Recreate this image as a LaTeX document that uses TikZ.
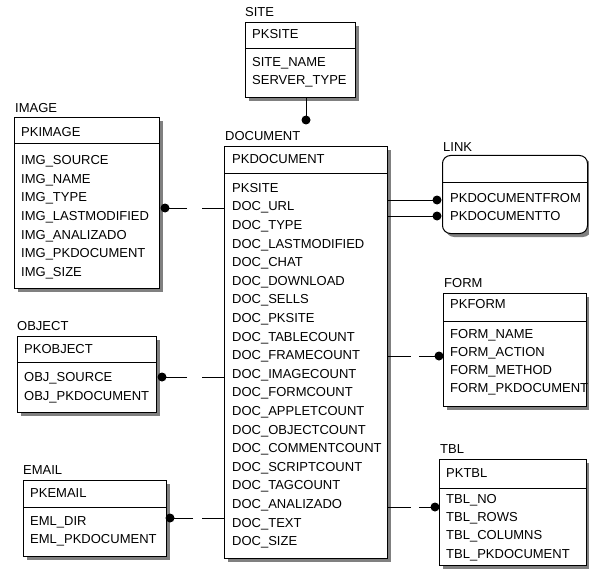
\documentclass[tikz,border=0pt]{standalone}
\usepackage{fontspec}
\setmainfont{Liberation Sans}
\newcommand\entity[7]{%
  \fill[shade,#7] ({#2+4},{#3+4}) rectangle ({#4+4},{#6+4});
  \node[ebox,#7,minimum width={#4-#2},minimum height={#6-#3}] (#1) at (#2,#3) {};
  \draw[hdr] (#2,#5) -- (#4,#5);
}
\begin{document}
\begin{tikzpicture}[x=1pt,y=-1pt,
  every node/.style={inner sep=0pt,anchor=west,text height=9.3pt,text depth=0pt,
    font=\fontsize{13}{13}\selectfont},
  ebox/.style={draw=black,fill=white,line width=1pt,anchor=north west},
  shade/.style={fill=black!50},
  hdr/.style={line width=1pt},
  rel/.style={line width=1pt},
  dotfill/.style={fill=black}]
\useasboundingbox (0,0) rectangle (589,575);
% entity boxes
\entity{site}{245}{22}{355}{49}{97}{}
\entity{image}{14}{117}{159}{144}{288}{}
\entity{doc}{224}{146}{387}{173}{558}{}
\entity{link}{442}{155}{587}{182}{233}{rounded corners=8pt}
\entity{form}{443}{293}{586}{321}{406}{}
\entity{object}{17}{336}{156}{362}{412}{}
\entity{email}{23}{480}{166}{507}{556}{}
\entity{tbl}{439}{459}{586}{488}{565}{}
% titles
\node (site-title) at (245,12) {SITE};
\node (image-title) at (15,108) {IMAGE};
\node (doc-title) at (225,136) {DOCUMENT};
\node (link-title) at (443,147) {LINK};
\node (form-title) at (444,283) {FORM};
\node (object-title) at (17,326) {OBJECT};
\node (email-title) at (23,470) {EMAIL};
\node (tbl-title) at (440,449) {TBL};
% primary keys
\node (site-pk) at (252,34) {PKSITE};
\node (image-pk) at (21,132) {PKIMAGE};
\node (doc-pk) at (232,159) {PKDOCUMENT};
\node (form-pk) at (450,304) {PKFORM};
\node (object-pk) at (24,349) {PKOBJECT};
\node (email-pk) at (30,493) {PKEMAIL};
\node (tbl-pk) at (446,473) {PKTBL};
% attributes
\foreach \t [count=\i] in {SITE\_NAME,SERVER\_TYPE}
  \node (site-\i) at (252,{62+18*(\i-1)}) {\t};
\foreach \t [count=\i] in {IMG\_SOURCE,IMG\_NAME,IMG\_TYPE,IMG\_LASTMODIFIED,IMG\_ANALIZADO,IMG\_PKDOCUMENT,IMG\_SIZE}
  \node (image-\i) at (21,{160+18.6*(\i-1)}) {\t};
\foreach \t [count=\i] in {PKSITE,DOC\_URL,DOC\_TYPE,DOC\_LASTMODIFIED,DOC\_CHAT,DOC\_DOWNLOAD,DOC\_SELLS,DOC\_PKSITE,DOC\_TABLECOUNT,DOC\_FRAMECOUNT,DOC\_IMAGECOUNT,DOC\_FORMCOUNT,DOC\_APPLETCOUNT,DOC\_OBJECTCOUNT,DOC\_COMMENTCOUNT,DOC\_SCRIPTCOUNT,DOC\_TAGCOUNT,DOC\_ANALIZADO,DOC\_TEXT,DOC\_SIZE}
  \node (doc-\i) at (232,{187.7+18.6*(\i-1)}) {\t};
\foreach \t [count=\i] in {PKDOCUMENTFROM,PKDOCUMENTTO}
  \node (link-\i) at (450,{198+18*(\i-1)}) {\t};
\foreach \t [count=\i] in {FORM\_NAME,FORM\_ACTION,FORM\_METHOD,FORM\_PKDOCUMENT}
  \node (form-\i) at (450,{334+18*(\i-1)}) {\t};
\foreach \t [count=\i] in {OBJ\_SOURCE,OBJ\_PKDOCUMENT}
  \node (object-\i) at (24,{377+19*(\i-1)}) {\t};
\foreach \t [count=\i] in {EML\_DIR,EML\_PKDOCUMENT}
  \node (email-\i) at (30,{521+17.5*(\i-1)}) {\t};
\foreach \t [count=\i] in {TBL\_NO,TBL\_ROWS,TBL\_COLUMNS,TBL\_PKDOCUMENT}
  \node (tbl-\i) at (446,{498.5+18.3*(\i-1)}) {\t};
% relationship end points
\coordinate (site-dot) at (306,120);
\coordinate (image-dot) at (165,208);
\coordinate (object-dot) at (162,377);
\coordinate (email-dot) at (170,518);
\coordinate (link-dot1) at (437,200);
\coordinate (link-dot2) at (437,216);
\coordinate (form-dot) at (439,356);
\coordinate (tbl-dot) at (435,507);
% connectors
\draw[rel] (site-dot |- site.south) -- (site-dot);
\draw[rel,dash pattern=on 22pt off 15pt on 100pt] (doc.west |- image-dot) -- (image-dot);
\draw[rel,dash pattern=on 22pt off 15pt on 100pt] (doc.west |- object-dot) -- (object-dot);
\draw[rel,dash pattern=on 22pt off 9pt on 100pt] (doc.west |- email-dot) -- (email-dot);
\draw[rel] (doc.east |- link-dot1) -- (link-dot1);
\draw[rel] (doc.east |- link-dot2) -- (link-dot2);
\draw[rel,dash pattern=on 23pt off 8pt on 100pt] (doc.east |- form-dot) -- (form-dot);
\draw[rel,dash pattern=on 23pt off 8pt on 100pt] (doc.east |- tbl-dot) -- (tbl-dot);
\foreach \d in {site-dot,image-dot,object-dot,email-dot,link-dot1,link-dot2,form-dot,tbl-dot}
  \fill[dotfill] (\d) circle (4.5);
\end{tikzpicture}
\end{document}
